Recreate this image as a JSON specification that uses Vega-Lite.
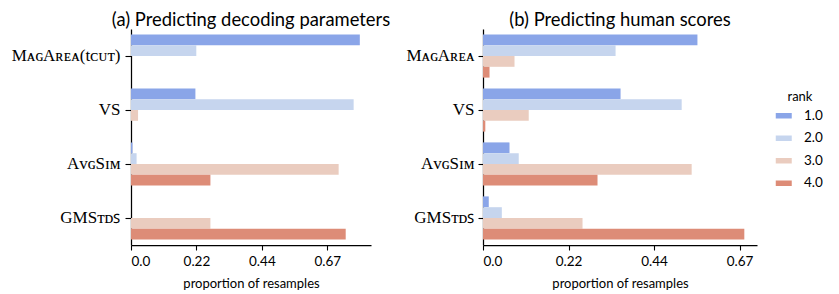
{
  "$schema": "https://vega.github.io/schema/vega-lite/v6.json",
  "padding": {"left": 11, "top": 10, "right": 0, "bottom": 0},
  "background": "white",
  "bounds": "flush",
  "spacing": 112,
  "config": {
    "view": {"stroke": null},
    "font": "Lato",
    "axis": {"grid": false, "domainColor": "black", "tickColor": "black", "labelColor": "black", "titleColor": "black", "domainWidth": 1.25, "tickWidth": 1.1},
    "title": {"font": "Lato", "fontSize": 18.4, "fontWeight": "normal", "color": "black", "anchor": "middle", "baseline": "alphabetic"}
  },
  "data": {"values": [
    {"panel": "a", "metric": "MᴀɢAʀᴇᴀ(tᴄᴜᴛ)", "rank": "1.0", "value": 0.778},
    {"panel": "a", "metric": "MᴀɢAʀᴇᴀ(tᴄᴜᴛ)", "rank": "2.0", "value": 0.222},
    {"panel": "a", "metric": "MᴀɢAʀᴇᴀ(tᴄᴜᴛ)", "rank": "3.0", "value": 0},
    {"panel": "a", "metric": "MᴀɢAʀᴇᴀ(tᴄᴜᴛ)", "rank": "4.0", "value": 0},
    {"panel": "a", "metric": "VS", "rank": "1.0", "value": 0.219},
    {"panel": "a", "metric": "VS", "rank": "2.0", "value": 0.757},
    {"panel": "a", "metric": "VS", "rank": "3.0", "value": 0.024},
    {"panel": "a", "metric": "VS", "rank": "4.0", "value": 0},
    {"panel": "a", "metric": "AᴠɢSɪᴍ", "rank": "1.0", "value": 0.005},
    {"panel": "a", "metric": "AᴠɢSɪᴍ", "rank": "2.0", "value": 0.019},
    {"panel": "a", "metric": "AᴠɢSɪᴍ", "rank": "3.0", "value": 0.706},
    {"panel": "a", "metric": "AᴠɢSɪᴍ", "rank": "4.0", "value": 0.270},
    {"panel": "a", "metric": "GMSᴛᴅꜱ", "rank": "1.0", "value": 0},
    {"panel": "a", "metric": "GMSᴛᴅꜱ", "rank": "2.0", "value": 0},
    {"panel": "a", "metric": "GMSᴛᴅꜱ", "rank": "3.0", "value": 0.270},
    {"panel": "a", "metric": "GMSᴛᴅꜱ", "rank": "4.0", "value": 0.730},
    {"panel": "b", "metric": "MᴀɢAʀᴇᴀ", "rank": "1.0", "value": 0.558},
    {"panel": "b", "metric": "MᴀɢAʀᴇᴀ", "rank": "2.0", "value": 0.345},
    {"panel": "b", "metric": "MᴀɢAʀᴇᴀ", "rank": "3.0", "value": 0.082},
    {"panel": "b", "metric": "MᴀɢAʀᴇᴀ", "rank": "4.0", "value": 0.017},
    {"panel": "b", "metric": "VS", "rank": "1.0", "value": 0.358},
    {"panel": "b", "metric": "VS", "rank": "2.0", "value": 0.517},
    {"panel": "b", "metric": "VS", "rank": "3.0", "value": 0.119},
    {"panel": "b", "metric": "VS", "rank": "4.0", "value": 0.006},
    {"panel": "b", "metric": "AᴠɢSɪᴍ", "rank": "1.0", "value": 0.069},
    {"panel": "b", "metric": "AᴠɢSɪᴍ", "rank": "2.0", "value": 0.093},
    {"panel": "b", "metric": "AᴠɢSɪᴍ", "rank": "3.0", "value": 0.543},
    {"panel": "b", "metric": "AᴠɢSɪᴍ", "rank": "4.0", "value": 0.298},
    {"panel": "b", "metric": "GMSᴛᴅꜱ", "rank": "1.0", "value": 0.015},
    {"panel": "b", "metric": "GMSᴛᴅꜱ", "rank": "2.0", "value": 0.049},
    {"panel": "b", "metric": "GMSᴛᴅꜱ", "rank": "3.0", "value": 0.259},
    {"panel": "b", "metric": "GMSᴛᴅꜱ", "rank": "4.0", "value": 0.680}
  ]},
  "resolve": {"scale": {"x": "independent", "y": "independent", "color": "shared"}},
  "hconcat": [
    {
      "title": {"text": "(a) Predicting decoding parameters", "offset": 0},
      "width": 240,
      "height": 216,
      "transform": [{"filter": "datum.panel === 'a'"}],
      "mark": {"type": "bar"},
      "encoding": {
        "y": {"field": "metric", "type": "nominal", "sort": ["MᴀɢAʀᴇᴀ(tᴄᴜᴛ)", "VS", "AᴠɢSɪᴍ", "GMSᴛᴅꜱ"],
              "scale": {"paddingInner": 0.2, "paddingOuter": 0.1},
              "axis": {"title": null, "labelFont": "Liberation Serif", "labelFontSize": 17, "tickSize": 6, "labelPadding": 5, "labelLimit": 200}},
        "yOffset": {"field": "rank", "type": "nominal", "sort": ["1.0", "2.0", "3.0", "4.0"], "scale": {"paddingInner": 0, "paddingOuter": 0}},
        "x": {"field": "value", "type": "quantitative",
              "scale": {"domain": [0, 0.816], "nice": false, "zero": true},
              "axis": {"title": "proportion of resamples", "titleFont": "Lato", "titleFontSize": 13, "titleFontWeight": "normal", "titlePadding": 10,
                       "values": [0, 0.2225, 0.445, 0.6675], "labelExpr": "datum.value < 0.1 ? '0.0' : datum.value < 0.3 ? '0.22' : datum.value < 0.5 ? '0.44' : '0.67'",
                       "labelFont": "Lato", "labelFontSize": 13.5, "tickSize": 5, "labelPadding": 4}},
        "color": {"field": "rank", "type": "nominal", "sort": ["1.0", "2.0", "3.0", "4.0"],
                  "scale": {"domain": ["1.0", "2.0", "3.0", "4.0"], "range": ["#8aa5e8", "#c6d5ee", "#eaccbf", "#dd8c77"]},
                  "legend": {"title": "rank", "orient": "none", "legendX": 646, "legendY": 62,
                             "symbolType": "M-1.4545,-0.5H1.4545V0.5H-1.4545Z", "symbolSize": 121, "symbolStrokeWidth": 0, "symbolOpacity": 1,
                             "labelFont": "Lato", "labelFontSize": 13.5, "labelOffset": 13.5, "rowPadding": 7.5,
                             "titleFont": "Lato", "titleFontSize": 13, "titleFontWeight": "normal", "titleAnchor": "middle", "titlePadding": 5}}
      }
    },
    {
      "title": {"text": "(b) Predicting human scores", "offset": 0},
      "width": 274,
      "height": 216,
      "transform": [{"filter": "datum.panel === 'b'"}],
      "mark": {"type": "bar"},
      "encoding": {
        "y": {"field": "metric", "type": "nominal", "sort": ["MᴀɢAʀᴇᴀ", "VS", "AᴠɢSɪᴍ", "GMSᴛᴅꜱ"],
              "scale": {"paddingInner": 0.2, "paddingOuter": 0.1},
              "axis": {"title": null, "labelFont": "Liberation Serif", "labelFontSize": 17, "tickSize": 5, "labelPadding": 4, "labelLimit": 200}},
        "yOffset": {"field": "rank", "type": "nominal", "sort": ["1.0", "2.0", "3.0", "4.0"], "scale": {"paddingInner": 0, "paddingOuter": 0}},
        "x": {"field": "value", "type": "quantitative",
              "scale": {"domain": [0, 0.713], "nice": false, "zero": true},
              "axis": {"title": "proportion of resamples", "titleFont": "Lato", "titleFontSize": 13, "titleFontWeight": "normal", "titlePadding": 10,
                       "values": [0, 0.2225, 0.445, 0.6675], "labelExpr": "datum.value < 0.1 ? '0.0' : datum.value < 0.3 ? '0.22' : datum.value < 0.5 ? '0.44' : '0.67'",
                       "labelFont": "Lato", "labelFontSize": 13.5, "tickSize": 5, "labelPadding": 4}},
        "color": {"field": "rank", "type": "nominal", "sort": ["1.0", "2.0", "3.0", "4.0"]}
      }
    }
  ]
}
